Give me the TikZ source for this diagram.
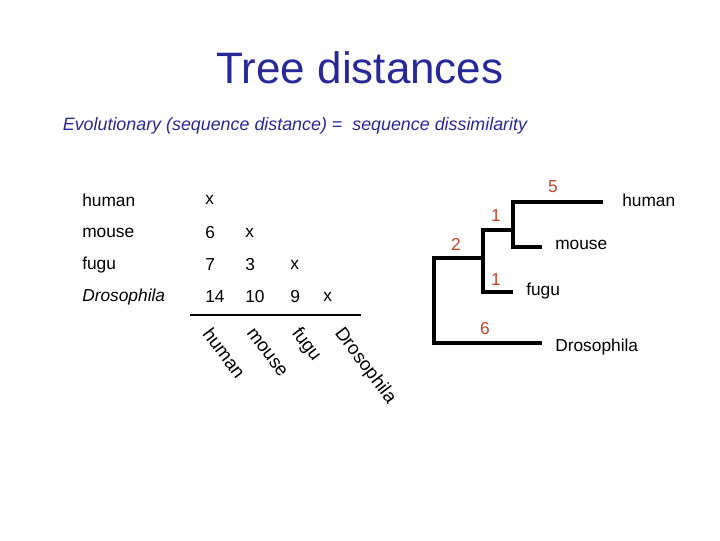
\documentclass[tikz,border=0pt]{standalone}
\usepackage{fontspec}
\setmainfont{Liberation Sans}
\definecolor{lbl}{RGB}{190,70,40}
\definecolor{ttl}{RGB}{40,40,150}
\begin{document}
\begin{tikzpicture}[x=0.75pt,y=-0.75pt,
  t/.style={font=\fontsize{13}{15}\selectfont,inner sep=0pt},
  num/.style={t,color=lbl},
  rot/.style={font=\fontsize{14}{16}\selectfont,inner sep=0pt,rotate=-53,anchor=west},
  br/.style={line width=2.8pt}]
\useasboundingbox (0,0) rectangle (720,540);
\node[font=\fontsize{33}{38}\selectfont,color=ttl] (title) at (360,68) {Tree distances};
\node[font=\fontsize{13.4}{15}\selectfont\itshape,color=ttl] (sub) at (295,126) {Evolutionary (sequence distance) =\ \ sequence dissimilarity};
\node[t,anchor=west] (r1) at (82,200) {human};
\node[t,anchor=west] (r2) at (82,233) {mouse};
\node[t,anchor=west] (r3) at (82,265) {fugu};
\node[t,anchor=west,font=\fontsize{13}{15}\selectfont\itshape] (r4) at (82,297) {Drosophila};
\node[t,anchor=west] (a11) at (205,200) {x};
\node[t,anchor=west] (a21) at (205,233) {6};
\node[t,anchor=west] (a22) at (245,233) {x};
\node[t,anchor=west] (a31) at (205,265) {7};
\node[t,anchor=west] (a32) at (245,265) {3};
\node[t,anchor=west] (a33) at (290,265) {x};
\node[t,anchor=west] (a41) at (205,297) {14};
\node[t,anchor=west] (a42) at (245,297) {10};
\node[t,anchor=west] (a43) at (290,297) {9};
\node[t,anchor=west] (a44) at (323,297) {x};
\coordinate (hl) at (190,315); \coordinate (hr) at (361,315);
\draw[line width=0.8pt] (hl) -- (hr);
\node[rot] (c1) at (207,330) {human};
\node[rot] (c2) at (250,330) {mouse};
\node[rot] (c3) at (295,330) {fugu};
\node[rot] (c4) at (338,330) {Drosophila};
% tree
\coordinate (root) at (434,258);
\coordinate (n1) at (483,258);
\coordinate (n2) at (513,230);
\coordinate (rd) at (434,343);
\node[t,anchor=west] (lh) at (622,200) {human};
\node[t,anchor=west] (lm) at (555,245) {mouse};
\node[t,anchor=west] (lf) at (526,291) {fugu};
\node[t,anchor=west] (ld) at (555,347) {Drosophila};
\coordinate (eh) at (603,202); \coordinate (em) at (542,247);
\coordinate (ef) at (513,292); \coordinate (ed) at (542,343);
\draw[br] (ed) -| (root) |- (n1);
\draw[br] (ef) -| (483,230) -- (n2);
\draw[br] (n1) -- (483,292);
\draw[br] (eh) -| (513,247) -- (em);
\node[num] (l5) at (553,187) {5};
\node[num] (l1a) at (496,216) {1};
\node[num] (l2) at (456,244) {2};
\node[num] (l1b) at (496,280) {1};
\node[num] (l6) at (485,329) {6};
\end{tikzpicture}
\end{document}
